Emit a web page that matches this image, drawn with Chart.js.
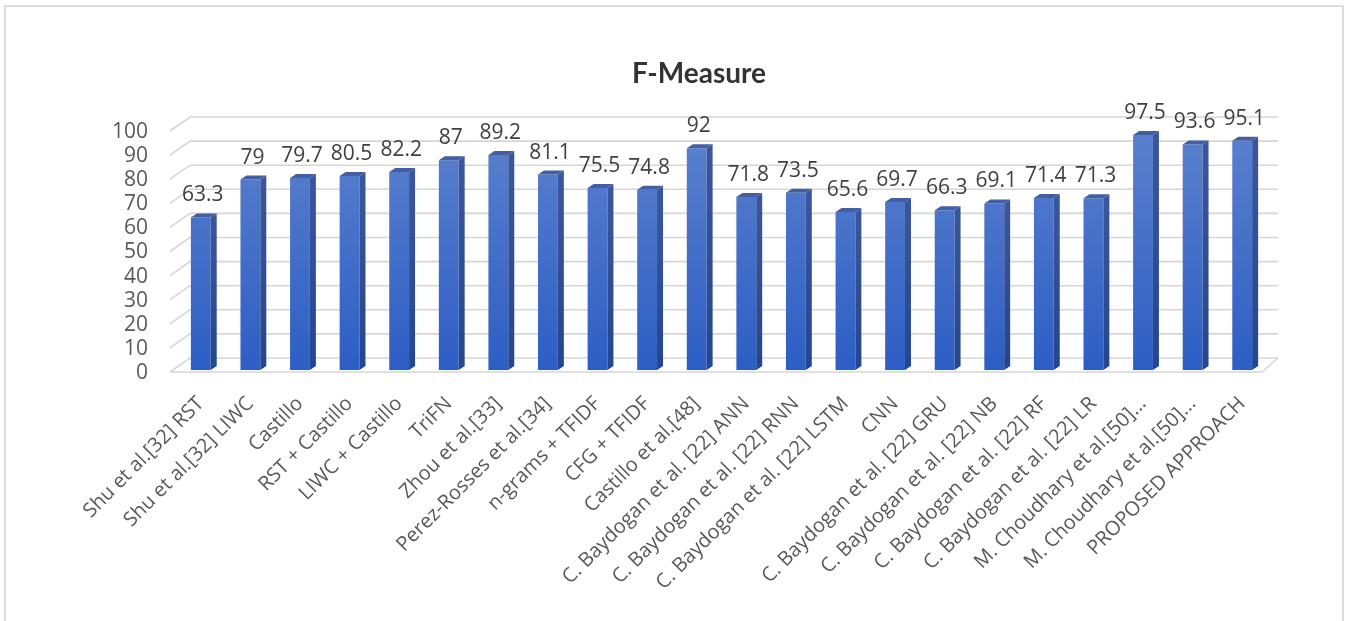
<!DOCTYPE html>
<html>
<head>
<meta charset="utf-8">
<script src="https://cdn.jsdelivr.net/npm/chart.js@4.4.1/dist/chart.umd.min.js"></script>
<style>
    html, body { margin: 0; padding: 0; background: #fff; overflow: hidden; }
    #wrap { position: relative; width: 1348px; height: 621px; }
    #frame { position: absolute; left: 4px; top: 5px; width: 1336px; height: 640px; border: 2px solid #dcdcdc; pointer-events: none; }
    #title { position: absolute; left: 599px; width: 200px; top: 55px; text-align: center;
             font: bold 28px Lato, sans-serif; color: #333; }
    canvas { position: absolute; left: 0; top: 0; }
</style>
</head>
<body>
<div id="wrap">
    <canvas id="fChart" width="1348" height="621"></canvas>
    <div id="frame"></div>
    <div id="title">F-Measure</div>
</div>
<script>
// --- data ---
const methods = [
    'Shu et al.[32] RST', 'Shu et al.[32] LIWC', 'Castillo', 'RST + Castillo', 'LIWC + Castillo',
    'TriFN', 'Zhou et al.[33]', 'Perez-Rosses et al.[34]', 'n-grams + TFIDF', 'CFG + TFIDF',
    'Castillo et al.[48]', 'C. Baydogan et al. [22] ANN', 'C. Baydogan et al. [22] RNN',
    'C. Baydogan et al. [22] LSTM', 'CNN', 'C. Baydogan et al. [22] GRU', 'C. Baydogan et al. [22] NB',
    'C. Baydogan et al. [22] RF', 'C. Baydogan et al. [22] LR', 'M. Choudhary et al.[50]...',
    'M. Choudhary et al.[50]...', 'PROPOSED APPROACH'
];
const fMeasure = [63.3, 79, 79.7, 80.5, 82.2, 87, 89.2, 81.1, 75.5, 74.8, 92, 71.8, 73.5, 65.6, 69.7, 66.3, 69.1, 71.4, 71.3, 97.5, 93.6, 95.1];
const yMin = 0, yMax = 100, yStep = 10;

const GRID = '#d6d6d6';
const TEXT_FONT = '"Open Sans", sans-serif';
const DEPTH_X = 6, DEPTH_Y = 4; // bar side / top faces

// gridlines with a little perspective, like the office 3D look
const perspectiveGrid = {
    id: 'perspectiveGrid',
    beforeDatasetsDraw(chart) {
        const { ctx, chartArea: a, scales: { y } } = chart;
        ctx.save();
        ctx.strokeStyle = GRID;
        ctx.lineWidth = 1.6;
        for (let v = yMin; v <= yMax; v += yStep) {
            const yf = y.getPixelForValue(v);
            const yb = yf - 12;
            ctx.beginPath();
            ctx.moveTo(a.left - 6, yf + 2);
            ctx.lineTo(a.left + 14, yb);
            ctx.lineTo(a.right + 11, yb);
            ctx.stroke();
        }
        // floor front edge
        const y0 = y.getPixelForValue(0);
        ctx.beginPath();
        ctx.moveTo(a.left - 6, y0 + 2);
        ctx.lineTo(a.right - 5, y0 + 2);
        ctx.lineTo(a.right + 11, y0 - 12);
        ctx.stroke();
        ctx.restore();
    }
};

// side + top faces of each bar, then the value labels
const bars3d = {
    id: 'bars3d',
    afterDatasetsDraw(chart) {
        const { ctx } = chart;
        const meta = chart.getDatasetMeta(0);
        ctx.save();
        meta.data.forEach((bar, i) => {
            const half = bar.width / 2;
            const r = bar.x + half, l = bar.x - half;
            const side = ctx.createLinearGradient(0, bar.y, 0, bar.base);
            side.addColorStop(0, '#3b579b');
            side.addColorStop(1, '#23468e');
            ctx.fillStyle = side;
            ctx.beginPath();
            ctx.moveTo(r, bar.y);
            ctx.lineTo(r + DEPTH_X, bar.y - DEPTH_Y);
            ctx.lineTo(r + DEPTH_X, bar.base - DEPTH_Y);
            ctx.lineTo(r, bar.base);
            ctx.closePath();
            ctx.fill();
            ctx.fillStyle = '#3f5fa9';
            ctx.beginPath();
            ctx.moveTo(l, bar.y);
            ctx.lineTo(l + DEPTH_X, bar.y - DEPTH_Y);
            ctx.lineTo(r + DEPTH_X, bar.y - DEPTH_Y);
            ctx.lineTo(r, bar.y);
            ctx.closePath();
            ctx.fill();

            ctx.fillStyle = '#404040';
            ctx.font = '21px ' + TEXT_FONT;
            ctx.textAlign = 'center';
            ctx.textBaseline = 'alphabetic';
            ctx.fillText(String(fMeasure[i]), bar.x + 2, bar.y - 16);
        });
        ctx.restore();
    }
};

function barGradient(context) {
    const { ctx, chartArea } = context.chart;
    if (!chartArea) return '#4472c4';
    const g = ctx.createLinearGradient(0, chartArea.top, 0, chartArea.bottom);
    g.addColorStop(0, '#5b80cd');
    g.addColorStop(1, '#2d5ec5');
    return g;
}

new Chart(document.getElementById('fChart'), {
    type: 'bar',
    data: {
        labels: methods,
        datasets: [{
            label: 'F-Measure',
            data: fMeasure,
            backgroundColor: barGradient,
            borderWidth: 0,
            barPercentage: 0.4,
            categoryPercentage: 1
        }]
    },
    options: {
        responsive: false,
        animation: false,
        layout: { padding: { top: 129, right: 81, left: 0, bottom: 0 } },
        plugins: {
            legend: { display: false },
            title: { display: false },
            tooltip: { enabled: false }
        },
        scales: {
            x: {
                grid: { display: false, drawTicks: false },
                border: { display: false },
                ticks: {
                    color: '#595959',
                    font: { family: TEXT_FONT, size: 20 },
                    minRotation: 45,
                    maxRotation: 45,
                    autoSkip: false,
                    padding: 22
                },
                afterFit: s => { s.height = 251; }
            },
            y: {
                min: yMin,
                max: yMax,
                grid: { display: false, drawTicks: false },
                border: { display: false },
                ticks: {
                    stepSize: yStep,
                    autoSkip: false,
                    color: '#595959',
                    font: { family: TEXT_FONT, size: 21 },
                    padding: 28,
                    labelOffset: 3
                },
                afterFit: s => { s.width = 176; }
            }
        }
    },
    plugins: [perspectiveGrid, bars3d]
});
</script>
</body>
</html>
